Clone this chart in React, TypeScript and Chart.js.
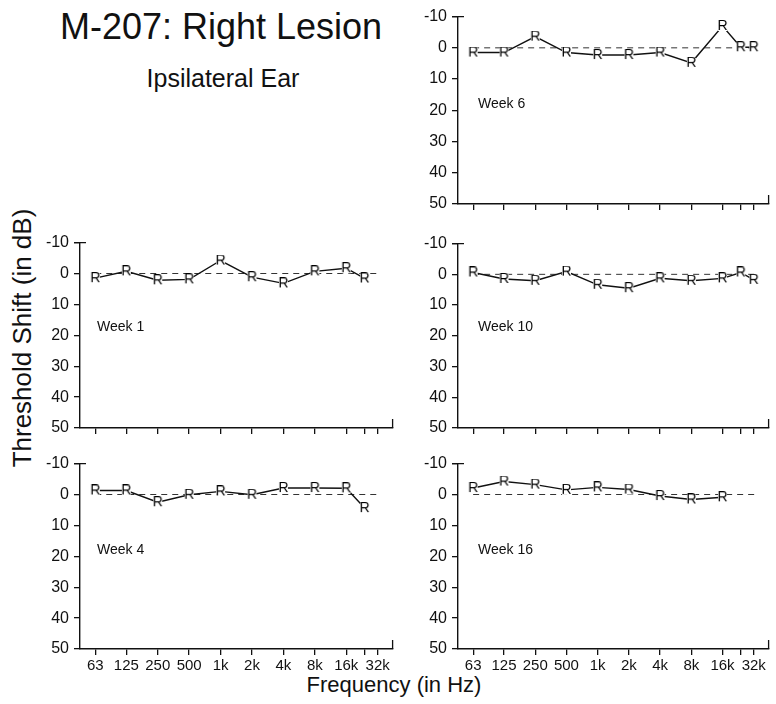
import React, { useEffect, useRef } from "react";
import { Chart, registerables } from "chart.js";

Chart.register(...registerables);

// Test frequencies (Hz) and their axis labels (24 kHz is ticked but unlabeled)
const FREQS = [63, 125, 250, 500, 1000, 2000, 4000, 8000, 16000, 24000, 32000];
const TICK_LABELS = ["63", "125", "250", "500", "1k", "2k", "4k", "8k", "16k", "", "32k"];
const DB_TICKS = [-10, 0, 10, 20, 30, 40, 50];

// Threshold shift (dB) per test frequency, in FREQS order
const WEEK_1 = [1.5, -0.7, 2.2, 1.9, -4.2, 1.2, 3.2, -0.7, -1.7, 1.6];
const WEEK_4 = [-1.3, -1.3, 2.5, 0.1, -1.0, 0.1, -2.1, -2.1, -2.0, 4.4];
const WEEK_6 = [1.5, 1.5, -3.6, 1.5, 2.3, 2.3, 1.5, 4.8, -7.0, -0.2, -0.2];
const WEEK_10 = [-0.6, 1.5, 2.1, -0.9, 3.4, 4.5, 1.3, 2.1, 1.3, -0.6, 1.8];
const WEEK_16 = [-2.1, -4.2, -3.2, -1.5, -2.3, -1.6, 0.5, 1.6, 0.9];

const FONT = "'Liberation Sans', Arial, Helvetica, sans-serif";

type Panel = {
  name: string;
  values: number[];
  left: number; // canvas left
  width: number; // canvas width
  axisWidth: number; // y-axis band width
  padRight: number;
  top: number; // plot top (y = -10)
  bottom: number; // plot bottom (y = 50)
  labelX: number;
  labelY: number;
  freqLabels: boolean;
};

const PANELS: Panel[] = [
  { name: "Week 6", values: WEEK_6, left: 400, width: 376, axisWidth: 58, padRight: 1, top: 14, bottom: 204, labelX: 478, labelY: 95, freqLabels: false },
  { name: "Week 1", values: WEEK_1, left: 0, width: 400, axisWidth: 80, padRight: 5, top: 240, bottom: 428, labelX: 97, labelY: 318, freqLabels: false },
  { name: "Week 10", values: WEEK_10, left: 400, width: 376, axisWidth: 58, padRight: 1, top: 241, bottom: 428, labelX: 478, labelY: 318, freqLabels: false },
  { name: "Week 4", values: WEEK_4, left: 0, width: 400, axisWidth: 80, padRight: 5, top: 461, bottom: 649, labelX: 97, labelY: 541, freqLabels: true },
  { name: "Week 16", values: WEEK_16, left: 400, width: 376, axisWidth: 58, padRight: 1, top: 461, bottom: 649, labelX: 478, labelY: 541, freqLabels: true },
];

const PAD_TOP = 12;
const X_AXIS_H = 30;

function makeLetterMarker(): HTMLCanvasElement {
  const c = document.createElement("canvas");
  c.width = 11;
  c.height = 12;
  const g = c.getContext("2d")!;
  g.fillStyle = "#fff";
  g.fillRect(1, 1, 9, 10);
  g.fillStyle = "#000";
  g.font = `14px ${FONT}`;
  g.textAlign = "center";
  g.textBaseline = "middle";
  g.fillText("R", 5.5, 6.5);
  return c;
}

// Small caps on the axes: the cross-bar at the top of the dB axis and the
// upturned end of the frequency axis.
const axisCaps = {
  id: "axisCaps",
  afterDraw(chart: any) {
    const { ctx, chartArea } = chart;
    ctx.save();
    ctx.strokeStyle = "#111";
    ctx.lineWidth = 1.3;
    ctx.beginPath();
    ctx.moveTo(chartArea.left - 6, chartArea.top);
    ctx.lineTo(chartArea.left + 6, chartArea.top);
    ctx.moveTo(chartArea.right, chartArea.bottom);
    ctx.lineTo(chartArea.right, chartArea.bottom - 9);
    ctx.stroke();
    ctx.restore();
  },
};

function PanelChart({ p, marker }: { p: Panel; marker: HTMLCanvasElement | null }) {
  const ref = useRef<HTMLCanvasElement>(null);
  useEffect(() => {
    if (!ref.current || !marker) return;
    const points = p.values.map((v, i) => ({ x: FREQS[i], y: v }));
    const zero = [
      { x: FREQS[0], y: 0 },
      { x: FREQS[FREQS.length - 1] * 1.06, y: 0 },
    ];
    const chart = new Chart(ref.current, {
      type: "line",
      data: {
        datasets: [
          {
            data: zero,
            borderColor: "#333",
            borderWidth: 1,
            borderDash: [6, 5],
            pointRadius: 0,
            order: 2,
          },
          {
            data: points,
            borderColor: "#111",
            borderWidth: 1.4,
            pointStyle: marker as any,
            pointRadius: 6,
            order: 1,
          },
        ],
      },
      options: {
        animation: false,
        responsive: false,
        events: [],
        layout: { padding: { top: PAD_TOP, right: p.padRight, left: 0, bottom: 0 } },
        plugins: { legend: { display: false }, tooltip: { enabled: false } },
        scales: {
          x: {
            type: "logarithmic",
            min: 45,
            max: 44500,
            afterFit: (s: any) => {
              s.height = X_AXIS_H;
            },
            afterBuildTicks: (s: any) => {
              s.ticks = FREQS.map((v) => ({ value: v }));
            },
            grid: { drawOnChartArea: false, color: "#111", tickLength: 6, lineWidth: 1.3 },
            border: { display: true, color: "#111", width: 1.4 },
            ticks: {
              autoSkip: false,
              maxRotation: 0,
              minRotation: 0,
              padding: 2,
              color: "#111",
              font: { family: FONT, size: 15 },
              callback: (_v: any, i: number) => (p.freqLabels ? TICK_LABELS[i] : ""),
            },
          },
          y: {
            type: "linear",
            reverse: true,
            min: DB_TICKS[0],
            max: DB_TICKS[DB_TICKS.length - 1],
            afterFit: (s: any) => {
              s.width = p.axisWidth;
            },
            afterBuildTicks: (s: any) => {
              s.ticks = DB_TICKS.map((v) => ({ value: v }));
            },
            grid: { drawOnChartArea: false, color: "#111", tickLength: 6, lineWidth: 1.3 },
            border: { display: true, color: "#111", width: 1.4 },
            ticks: {
              padding: 5,
              color: "#111",
              font: { family: FONT, size: 16 },
              callback: (v: any) => String(v),
            },
          },
        },
      },
      plugins: [axisCaps],
    });
    return () => chart.destroy();
  }, [p, marker]);

  const h = PAD_TOP + (p.bottom - p.top) + X_AXIS_H;
  return (
    <canvas
      ref={ref}
      width={p.width}
      height={h}
      style={{ position: "absolute", left: p.left, top: p.top - PAD_TOP, width: p.width, height: h }}
    />
  );
}

export default function App() {
  const [marker, setMarker] = React.useState<HTMLCanvasElement | null>(null);
  useEffect(() => {
    setMarker(makeLetterMarker());
  }, []);

  const text: React.CSSProperties = { position: "absolute", fontFamily: FONT, color: "#111", whiteSpace: "nowrap" };

  return (
    <div style={{ position: "absolute", left: 0, top: 0, width: 776, height: 704, background: "#fff", overflow: "hidden" }}>
      <div style={{ ...text, left: 0, width: 442, top: 6, textAlign: "center", fontSize: 36 }}>M-207: Right Lesion</div>
      <div style={{ ...text, left: 0, width: 446, top: 64, textAlign: "center", fontSize: 25 }}>Ipsilateral Ear</div>
      <div
        style={{
          ...text,
          left: 22,
          top: 338,
          fontSize: 26,
          transform: "translate(-50%, -50%) rotate(-90deg)",
        }}
      >
        Threshold Shift (in dB)
      </div>
      <div style={{ ...text, left: 194, width: 400, top: 672, textAlign: "center", fontSize: 22 }}>Frequency (in Hz)</div>
      {PANELS.map((p) => (
        <PanelChart key={p.name} p={p} marker={marker} />
      ))}
      {PANELS.map((p) => (
        <div key={p.name + "-label"} style={{ ...text, left: p.labelX, top: p.labelY, fontSize: 14 }}>
          {p.name}
        </div>
      ))}
    </div>
  );
}
